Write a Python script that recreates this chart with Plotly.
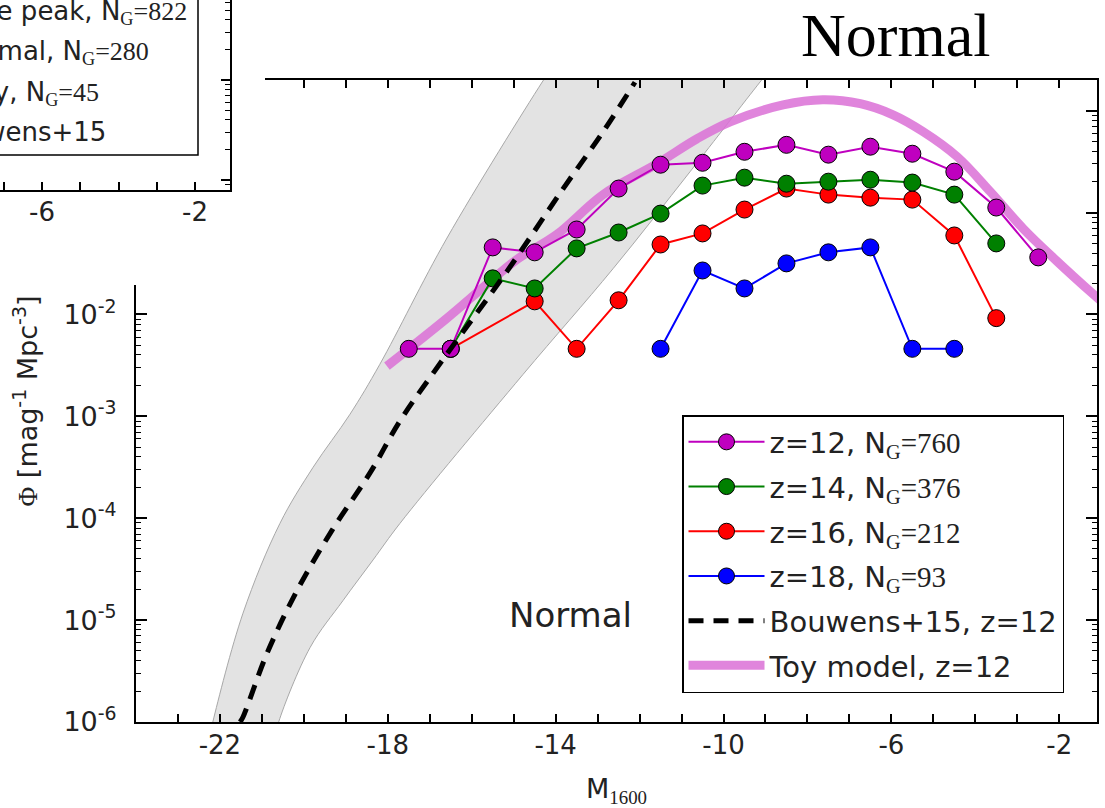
import plotly.graph_objects as go

W, H = 1105, 808

# ---------------- data ----------------
redshifts = [12, 14, 16, 18]
n_gal = [760, 376, 212, 93]
colors = ["#BF00BF", "#008000", "#FF0000", "#0000FF"]

z12_M = [-17.5, -16.5, -15.5, -14.5, -13.5, -12.5, -11.5, -10.5, -9.5, -8.5, -7.5, -6.5, -5.5, -4.5, -3.5, -2.5]
z12_phi = [4.6e-3, 4.6e-3, 0.0455, 0.0407, 0.0682, 0.172, 0.295, 0.308, 0.395, 0.462, 0.370, 0.443, 0.378, 0.252, 0.112, 0.0363]

z14_M = [-16.5, -15.5, -14.5, -13.5, -12.5, -11.5, -10.5, -9.5, -8.5, -7.5, -6.5, -5.5, -4.5, -3.5]
z14_phi = [4.6e-3, 0.0226, 0.0180, 0.0445, 0.0637, 0.0977, 0.184, 0.220, 0.192, 0.201, 0.210, 0.197, 0.150, 0.0498]

z16_M = [-16.5, -14.5, -13.5, -12.5, -11.5, -10.5, -9.5, -8.5, -7.5, -6.5, -5.5, -4.5, -3.5]
z16_phi = [4.6e-3, 0.01345, 4.6e-3, 0.01377, 0.0486, 0.0624, 0.107, 0.172, 0.150, 0.140, 0.134, 0.0596, 9.2e-3]

z18_M = [-11.5, -10.5, -9.5, -8.5, -7.5, -6.5, -5.5, -4.5]
z18_phi = [4.6e-3, 0.0270, 0.0180, 0.0317, 0.0407, 0.0455, 4.6e-3, 4.6e-3]

bouwens_M = [-21.52, -21.45, -20.88, -20.16, -19.33, -18.42, -17.71, -16.71, -15.16, -13.82, -12.87, -12.11]
bouwens_phi = [1.0e-6, 1.12e-6, 4.7e-6, 1.96e-5, 7.6e-5, 2.8e-4, 9.0e-4, 3.5e-3, 0.0265, 0.172, 0.62, 1.9]

band_upper_M = [-22.25, -22.17, -21.45, -20.57, -19.78, -18.90, -18.19, -16.59, -14.32, -14.0]
band_upper_phi = [7e-7, 1.0e-6, 1.17e-5, 8.9e-5, 3.16e-4, 1.05e-3, 3.24e-3, 0.0562, 1.91, 3.0]
band_lower_M = [-20.68, -20.60, -19.85, -19.07, -18.35, -17.71, -14.78, -12.63, -10.80, -9.13, -8.75]
band_lower_phi = [7e-7, 1.0e-6, 5.4e-6, 1.55e-5, 3.9e-5, 8.9e-5, 2.57e-3, 0.0282, 0.251, 1.91, 3.0]

toy_M = [-18.02, -16.59, -15.64, -14.92, -13.97, -12.87, -11.58, -10.63, -9.84, -8.58, -7.63,
         -6.74, -5.96, -5.24, -4.43, -3.64, -2.86, -2.05, -1.19, -1.0]
toy_phi = [3.11e-3, 9.18e-3, 0.0198, 0.0347, 0.0610, 0.150, 0.302, 0.530, 0.776, 1.14, 1.28,
           1.17, 0.910, 0.621, 0.353, 0.160, 0.0697, 0.0332, 0.0158, 0.0135]

x_tickvals = [-22, -18, -14, -10, -6, -2]
x_ticktext = ["-22", "-18", "-14", "-10", "-6", "-2"]
y_tickvals = [1e-6, 1e-5, 1e-4, 1e-3, 1e-2, 1e-1, 1]
# the two top decade labels are hidden under the overlapping panel in the reference
y_ticktext = ["10<sup>-6</sup>", "10<sup>-5</sup>", "10<sup>-4</sup>", "10<sup>-3</sup>",
              "10<sup>-2</sup>", "", ""]
inset_x_tickvals = [-6, -2]
inset_x_ticktext = ["-6", "-2"]

inset_legend_labels = ["Late peak", "Normal", "Bursty", "Bouwens+15"]
inset_legend_counts = [822, 280, 45, None]

SERIF = "Liberation Serif"
SANS = "DejaVu Sans"


def ng_label(prefix, n):
    if n is None:
        return prefix
    return (f"{prefix}, N<sub><span style='font-family:{SERIF}'>G</span></sub>"
            f"<span style='font-family:{SERIF}'>={n}</span>")


fig = go.Figure()

# grey uncertainty band (two smooth edges, filled between)
fig.add_trace(go.Scatter(
    x=band_upper_M, y=band_upper_phi, mode="lines",
    line=dict(color="#a8a8a8", width=1, shape="spline"), showlegend=False, hoverinfo="skip"))
fig.add_trace(go.Scatter(
    x=band_lower_M, y=band_lower_phi, mode="lines", fill="tonexty", fillcolor="#e3e3e3",
    line=dict(color="#a8a8a8", width=1, shape="spline"), showlegend=False, hoverinfo="skip"))

# toy model
fig.add_trace(go.Scatter(
    x=toy_M, y=toy_phi, mode="lines", line=dict(color="rgba(218,112,214,0.85)", width=9, shape="spline"),
    name="Toy model, z=12", legendrank=6, legendgroup="g6"))

series = [(z12_M, z12_phi), (z14_M, z14_phi), (z16_M, z16_phi), (z18_M, z18_phi)]
for i in [3, 2, 1, 0]:
    xs, ys = series[i]
    fig.add_trace(go.Scatter(
        x=xs, y=ys, mode="lines+markers",
        line=dict(color=colors[i], width=2),
        marker=dict(size=17, color=colors[i], line=dict(color="black", width=1)),
        name=ng_label(f"z={redshifts[i]}", n_gal[i]), legendrank=i + 1, legendgroup=f"g{i+1}"))

fig.add_trace(go.Scatter(
    x=bouwens_M, y=bouwens_phi, mode="lines",
    line=dict(color="black", width=5, dash="15px,10px", shape="spline"),
    name="Bouwens+15, z=12", legendrank=5, legendgroup="g5"))

# cover (white area of an overlapping panel) and the partial overlapping panel
fig.add_trace(go.Scatter(x=[None], y=[None], xaxis="x2", yaxis="y2", showlegend=False, hoverinfo="skip"))
fig.add_trace(go.Scatter(x=[None], y=[None], xaxis="x3", yaxis="y3", showlegend=False, hoverinfo="skip"))

axis_common = dict(showline=True, linecolor="black", linewidth=2, ticks="inside",
                   tickcolor="black", showgrid=False, zeroline=False, automargin=False)

fig.update_layout(
    width=W, height=H, autosize=False,
    margin=dict(l=0, r=0, t=0, b=0, autoexpand=False),
    paper_bgcolor="white", plot_bgcolor="white",
    font=dict(family=SANS, size=24, color="#222"),
    xaxis=dict(**axis_common, domain=[136 / W, 1097 / W], range=[-24.0, -1.1],
               tickvals=x_tickvals, ticktext=x_ticktext, ticklen=8, tickwidth=1.5, mirror="allticks",
               minor=dict(dtick=1, tick0=-22, ticks="inside", ticklen=8, tickwidth=1.5, tickcolor="black"),
               tickfont=dict(size=26, family=SANS, color="#222"), ticklabelstandoff=-1,
               title=dict(text=f"M<sub><span style='font-family:{SERIF}'>1600</span></sub>",
                          font=dict(size=27, family=SANS, color="#222"), standoff=20)),
    yaxis=dict(**axis_common, domain=[1 - 722 / H, 1 - 80 / H], type="log", range=[-6, 0.301],
               tickvals=y_tickvals, ticktext=y_ticktext, ticklen=11, tickwidth=1.5,
               mirror="allticks",
               minor=dict(dtick="D1", ticks="inside", ticklen=5, tickwidth=1.2, tickcolor="black"),
               tickfont=dict(size=27, family=SANS, color="#222"), ticklabelstandoff=12,
               title=dict(text=f"<span style='font-family:{SERIF}'>Φ</span> [mag<sup>-1</sup> Mpc<sup>-3</sup>]",
                          font=dict(size=27, family=SANS, color="#222"), standoff=18)),
    xaxis2=dict(domain=[0, 265 / W], anchor="y2", visible=False, range=[0, 1], automargin=False),
    yaxis2=dict(domain=[1 - 285 / H, 1], anchor="x2", visible=False, range=[0, 1], automargin=False),
    xaxis3=dict(**axis_common, domain=[0, 230 / W], anchor="y3", range=[-7.098, -1.085],
                tickvals=inset_x_tickvals, ticktext=inset_x_ticktext, ticklen=8, tickwidth=1.5,
                minor=dict(dtick=1, tick0=-6, ticks="inside", ticklen=8, tickwidth=1.5, tickcolor="black"),
                tickfont=dict(size=26, family=SANS, color="#222"), ticklabelstandoff=-2),
    yaxis3=dict(**axis_common, domain=[1 - 190 / H, 1], anchor="x3", type="log", range=[-2.1, -0.2],
                side="right", dtick=1, ticklen=9, tickwidth=1.5, showticklabels=False,
                minor=dict(dtick="D1", ticks="inside", ticklen=5, tickwidth=1.2, tickcolor="black")),
    legend=dict(x=682 / W, y=1 - 415 / H, xanchor="left", yanchor="top",
                bgcolor="white", bordercolor="black", borderwidth=1.5,
                font=dict(size=29, family=SANS, color="#222"),
                traceorder="grouped", tracegroupgap=4, itemwidth=76),
    showlegend=True,
)

# legend box of the overlapping panel
fig.add_shape(type="rect", xref="paper", yref="paper", x0=-0.1, x1=198 / W,
              y0=1 - 155 / H, y1=1.1, line=dict(color="black", width=1.5), layer="above")

inset_right = [189, 151, 101, 108]
inset_y = [12, 52, 93, 132]
for lab, cnt, xr, yc in zip(inset_legend_labels, inset_legend_counts, inset_right, inset_y):
    fig.add_annotation(x=xr / W, y=1 - yc / H, xref="paper", yref="paper", xanchor="right",
                       yanchor="middle", showarrow=False, text=ng_label(lab, cnt),
                       font=dict(size=26, family=SANS, color="#222"))

fig.add_annotation(x=570 / W, y=1 - 615 / H, xref="paper", yref="paper", showarrow=False,
                   xanchor="center", yanchor="middle",
                   text="Normal", font=dict(size=34, family=SANS, color="#222"))
fig.add_annotation(x=895 / W, y=1 - 35 / H, xref="paper", yref="paper", showarrow=False,
                   xanchor="center", yanchor="middle",
                   text="Normal", font=dict(size=62, family=SERIF, color="black"))

fig.write_html("out.html")
